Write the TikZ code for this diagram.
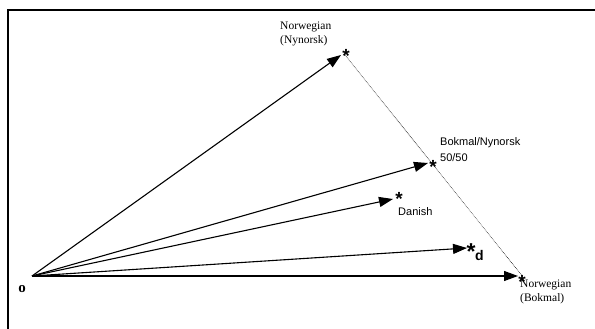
\documentclass[tikz,border=0pt]{standalone}
\usepackage{fontspec}
\setmainfont{Liberation Serif}
\setsansfont{Liberation Sans}
\usetikzlibrary{arrows.meta}
\begin{document}
\begin{tikzpicture}[x=1pt,y=-1pt,
  vec/.style={line width=1.1pt,-{Triangle[length=14pt,width=10pt]}},
  star/.style={font=\sffamily\bfseries\fontsize{19}{19}\selectfont, inner sep=0pt, anchor=base},
  bigstar/.style={font=\sffamily\bfseries\fontsize{23}{23}\selectfont, inner sep=0pt, anchor=base},
  serlab/.style={font=\fontsize{11.5}{14}\selectfont, align=left, inner sep=0pt, anchor=north west},
  sanlab/.style={font=\sffamily\fontsize{11}{16}\selectfont, align=left, inner sep=0pt, anchor=north west},
  link/.style={densely dotted, line width=0.6pt}]
\useasboundingbox (0,0) rectangle (595,329);
\draw[line width=2pt] (8,329) -- (8,10) -- (595,10);

\coordinate (O) at (32,276);
\node[font=\bfseries\fontsize{15}{15}\selectfont, inner sep=0pt] (olab) at (22,289) {o};

% tips
\coordinate (tNyn) at (341,55);
\coordinate (tMid) at (428,163);
\coordinate (tDan) at (393,199);
\coordinate (tD) at (467,248);
\coordinate (tBok) at (518,276);

% asterisks
\node[star] (sNyn) at (346,63) {*};
\node[star] (sMid) at (433,173) {*};
\node[star] (sDan) at (399,205.5) {*};
\node[bigstar] (sD) at (471,259) {*};
\node[star] (sBok) at (522,288) {*};

% vectors
\draw[vec] (O) -- (tNyn);
\draw[vec] (O) -- (tMid);
\draw[vec] (O) -- (tDan);
\draw[vec] (O) -- (tD);
\draw[vec] (O) -- (tBok);

% dotted line
\coordinate (dA) at (345,55);
\coordinate (dB) at (523,277);
\draw[link] (dA) -- (dB);

% labels
\node[serlab] (lNyn) at (280,22) {Norwegian\\(Nynorsk)};
\node[sanlab] (lMid) at (440,137) {Bokmal/Nynorsk\\50/50};
\node[sanlab] (lDan) at (398,207) {Danish};
\node[font=\sffamily\bfseries\fontsize{14}{14}\selectfont, inner sep=0pt, anchor=north west] (lD) at (475,250) {d};
\node[serlab] (lBok) at (520,280) {Norwegian\\(Bokmal)};
\end{tikzpicture}
\end{document}
